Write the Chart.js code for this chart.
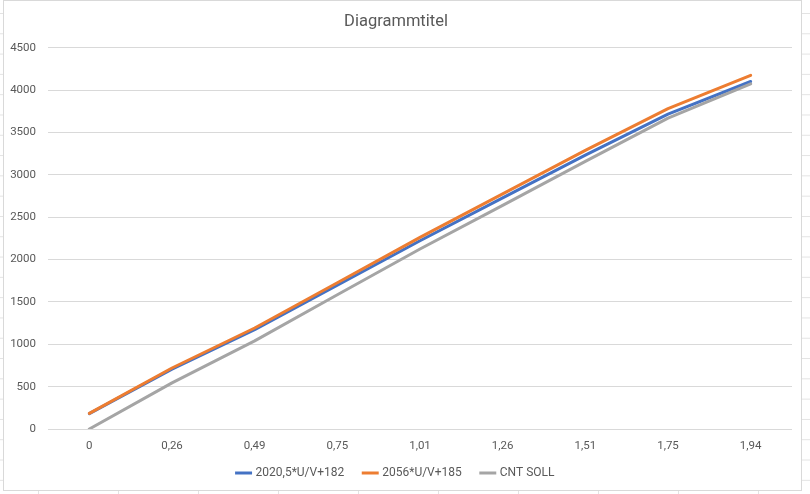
<!DOCTYPE html>
<html lang="de">
<head>
    <meta charset="UTF-8">
    <title>Diagrammtitel</title>
    <script src="https://cdn.jsdelivr.net/npm/chart.js"></script>
    <style>
        body {
            margin: 0;
            width: 810px;
            height: 494px;
            position: relative;
            overflow: hidden;
            background-color: #fff;
            background-image:
                linear-gradient(#e3e3e3 1px, transparent 1px),
                linear-gradient(90deg, #e3e3e3 1px, transparent 1px);
            background-size: 100% 20.3px, 80px 100%;
            background-position: 0 13px, 38px 0;
        }
        .frame {
            position: absolute;
            left: 3px; top: 0;
            width: 799px; height: 491px;
            box-sizing: border-box;
            background: #fff;
            border: 1px solid #d9d9d9;
        }
        canvas { position: absolute; left: 0; top: 0; }
    </style>
</head>
<body>
    <div class="frame"></div>
    <canvas id="chart" width="810" height="494"></canvas>

    <script>
        // Werte
        const labels = ['0', '0,26', '0,49', '0,75', '1,01', '1,26', '1,51', '1,75', '1,94'];
        const serieBlau = [182, 707, 1172, 1697, 2222, 2728, 3233, 3718, 4102];
        const serieOrange = [185, 720, 1192, 1727, 2262, 2776, 3290, 3783, 4174];
        const cntSoll = [0, 545, 1040, 1585, 2125, 2640, 3160, 3670, 4075];

        const schrift = "'Roboto', sans-serif";
        const grau = '#595959';

        // Legende etwas näher an die Achse rücken
        const legendeHoch = {
            id: 'legendeHoch',
            afterLayout(chart) {
                chart.legend.top -= 12;
                chart.legend.bottom -= 12;
            }
        };

        const ctx = document.getElementById('chart').getContext('2d');
        new Chart(ctx, {
            type: 'line',
            data: {
                labels: labels,
                datasets: [
                    { label: '2020,5*U/V+182', data: serieBlau, borderColor: '#4472C4', backgroundColor: '#4472C4', borderWidth: 3, order: 3 },
                    { label: '2056*U/V+185', data: serieOrange, borderColor: '#ED7D31', backgroundColor: '#ED7D31', borderWidth: 3, order: 2 },
                    { label: 'CNT SOLL', data: cntSoll, borderColor: '#A5A5A5', backgroundColor: '#A5A5A5', borderWidth: 3, order: 1 }
                ]
            },
            plugins: [legendeHoch],
            options: {
                responsive: false,
                animation: false,
                layout: { padding: { left: 0, right: 18, top: 0, bottom: -7 } },
                elements: {
                    line: { tension: 0, borderCapStyle: 'round', borderJoinStyle: 'round' },
                    point: { radius: 0, hoverRadius: 0 }
                },
                plugins: {
                    title: {
                        display: true,
                        text: 'Diagrammtitel',
                        color: grau,
                        font: { family: schrift, size: 16.5, weight: 'normal' },
                        padding: { top: 12, bottom: 16 }
                    },
                    legend: {
                        position: 'bottom',
                        labels: {
                            usePointStyle: true,
                            pointStyle: 'line',
                            boxWidth: 28,
                            padding: 20,
                            color: grau,
                            font: { family: schrift, size: 12 },
                            sort: (a, b) => a.datasetIndex - b.datasetIndex
                        }
                    },
                    tooltip: { enabled: false }
                },
                scales: {
                    x: {
                        offset: true,
                        grid: { display: false, drawTicks: false },
                        border: { display: false },
                        ticks: { color: grau, font: { family: schrift, size: 11.5 }, padding: 10, maxRotation: 0 },
                        afterFit: (scale) => { scale.height = 30; }
                    },
                    y: {
                        min: 0,
                        max: 4500,
                        grid: { color: '#d9d9d9', drawTicks: false },
                        border: { display: false },
                        ticks: {
                            stepSize: 500,
                            color: grau,
                            font: { family: schrift, size: 11.5 },
                            padding: 12,
                            callback: (v) => String(v)
                        },
                        afterFit: (scale) => { scale.width = 48; }
                    }
                }
            }
        });
    </script>
</body>
</html>
